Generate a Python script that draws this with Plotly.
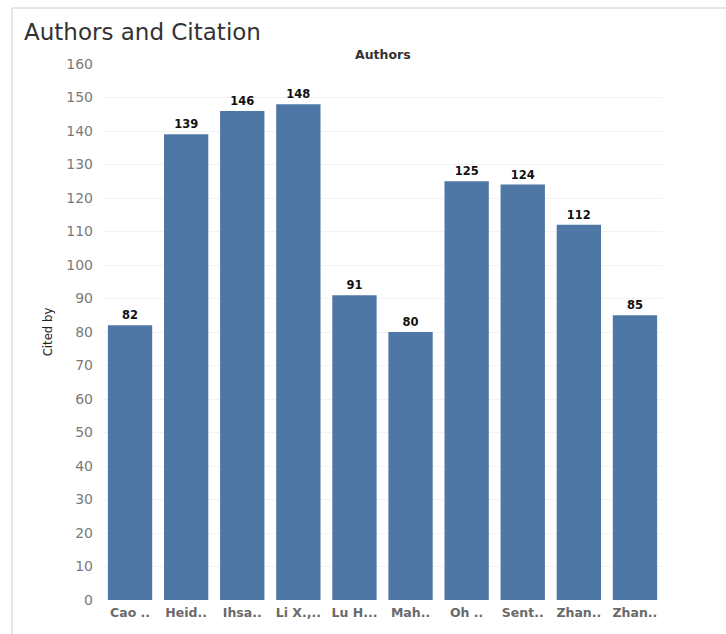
import plotly.graph_objects as go

# Author labels (truncated as shown on the axis) and citation counts
authors = ["Cao ..", "Heid..", "Ihsa..", "Li X.,..", "Lu H...", "Mah..",
           "Oh ..", "Sent..", "Zhan..", "Zhan.."]
cited_by = [82, 139, 146, 148, 91, 80, 125, 124, 112, 85]
y_ticks = list(range(0, 161, 10))

positions = list(range(len(authors)))

W, H = 726, 634
L, R, T, B = 102, 63, 64, 34
plot_w = W - L - R
plot_h = H - T - B

fig = go.Figure(
    go.Bar(
        x=positions,
        y=cited_by,
        marker=dict(color="#4e77a5", line=dict(width=0)),
        text=[str(v) for v in cited_by],
        textposition="outside",
        textfont=dict(family="DejaVu Sans", size=11.5, color="#111111"),
        texttemplate="<b>%{text}</b>",
        cliponaxis=False,
        width=0.79,
    )
)

fig.update_layout(
    width=W,
    height=H,
    margin=dict(l=L, r=R, t=T, b=B),
    paper_bgcolor="white",
    plot_bgcolor="white",
    showlegend=False,
    font=dict(family="DejaVu Sans", color="#555555"),
    xaxis=dict(
        tickmode="array",
        tickvals=positions,
        ticktext=[f"<b>{a}</b>" for a in authors],
        tickfont=dict(family="DejaVu Sans", size=12.5, color="#6a6a6a"),
        range=[-0.5, len(authors) - 0.5],
        showgrid=False,
        zeroline=False,
        showline=False,
        ticks="",
        ticklabelstandoff=3,
    ),
    yaxis=dict(
        range=[0, 160],
        tickmode="array",
        tickvals=y_ticks,
        tickfont=dict(family="DejaVu Sans", size=14, color="#7a7a7a"),
        showgrid=True,
        gridcolor="#f3f3f3",
        gridwidth=1,
        zeroline=False,
        showline=False,
        ticks="",
        ticklabelstandoff=8,
        title=dict(
            text="Cited by",
            font=dict(family="DejaVu Sans Condensed, DejaVu Sans", size=13, color="#222222"),
            standoff=10,
        ),
    ),
    annotations=[
        dict(
            text="Authors and Citation",
            xref="paper", yref="paper",
            x=(22 - L) / plot_w, y=(H - B - 32) / plot_h,
            xanchor="left", yanchor="middle",
            showarrow=False,
            font=dict(family="DejaVu Sans", size=23, color="#333333"),
        ),
        dict(
            text="<b>Authors</b>",
            xref="paper", yref="paper",
            x=0.5, y=(H - B - 55) / plot_h,
            xanchor="center", yanchor="middle",
            showarrow=False,
            font=dict(family="DejaVu Sans", size=12.5, color="#333333"),
        ),
    ],
    shapes=[
        # outer frame: top edge and left edge
        dict(type="line", xref="paper", yref="paper",
             x0=(12 - L) / plot_w, x1=(W - L) / plot_w,
             y0=(H - B - 8) / plot_h, y1=(H - B - 8) / plot_h,
             line=dict(color="#cccccc", width=1)),
        dict(type="line", xref="paper", yref="paper",
             x0=(12 - L) / plot_w, x1=(12 - L) / plot_w,
             y0=(H - B - 8) / plot_h, y1=(H - B - H) / plot_h,
             line=dict(color="#cccccc", width=1)),
    ],
)

fig.write_html("out.html")
